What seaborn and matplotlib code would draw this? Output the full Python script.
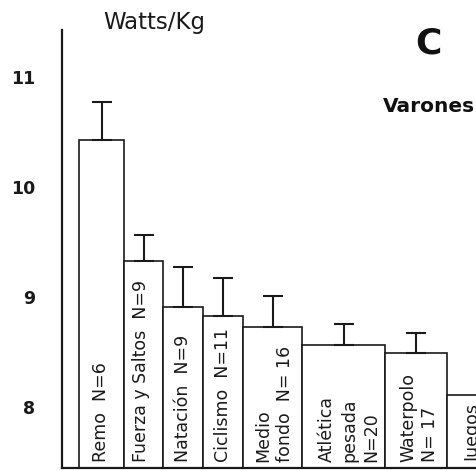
import matplotlib
matplotlib.use("Agg")
import matplotlib.pyplot as plt
import seaborn as sns
import numpy as np
import pandas as pd

# Mean relative power (W/kg) and SD per sport, men
sports = ["Remo", "Fuerza y Saltos", "Natación", "Ciclismo",
          "Medio fondo", "Atlética pesada", "Waterpolo", "Juegos"]
watts_kg = [10.43, 9.33, 8.91, 8.83, 8.73, 8.56, 8.49, 8.11]
sd_watts = [0.34, 0.23, 0.36, 0.34, 0.28, 0.19, 0.18, 0.11]
bar_labels = ["Remo  N=6", "Fuerza y Saltos  N=9", "Natación  N=9",
              "Ciclismo  N=11", "Medio\nfondo  N= 16", "Atlética\npesada\nN=20",
              "Waterpolo\nN= 17", "Juegos"]
y_ticks = [8, 9, 10, 11]
y_ticklabels = ["8", "9", "10", "11"]

# Layout (figure pixels): bars are adjacent with individual widths
W, H = 477, 470
AX_LEFT, AX_TOP, AX_BOTTOM = 62, 30, 468
FIRST_BAR_LEFT = 79
BAR_WIDTHS = [45, 39, 40, 40, 59, 83, 62, 78]
LABEL_PAD = [13, 8, 11, 11, 11, 16, 14, 18]
Y_MIN, Y_MAX = 7.445, 11.427

sns.set_theme(style="white")
plt.rcParams["font.family"] = ["DejaVu Sans"]

fig = plt.figure(figsize=(W / 100, H / 100), dpi=100)
ax = fig.add_axes([AX_LEFT / W, (H - AX_BOTTOM) / H,
                   (W - AX_LEFT) / W, (AX_BOTTOM - AX_TOP) / H])

df = pd.DataFrame({"sport": sports, "watts": watts_kg})
sns.barplot(data=df, x="sport", y="watts", ax=ax, color="white",
            edgecolor="#1a1a1a", linewidth=1.2, errorbar=None, saturation=1)

# Reposition bars to their individual widths
lefts = FIRST_BAR_LEFT + np.concatenate([[0], np.cumsum(BAR_WIDTHS[:-1])])
centers = lefts + np.array(BAR_WIDTHS) / 2
for patch, left, width in zip(ax.patches, lefts, BAR_WIDTHS):
    patch.set_x(left)
    patch.set_width(width)

# Upper-only error bars
ax.errorbar(centers, watts_kg, yerr=[np.zeros(len(sd_watts)), sd_watts],
            fmt="none", ecolor="#1a1a1a", elinewidth=1.5, capsize=7.5,
            capthick=1.5, zorder=3)

# Labels written inside the bars
for left, pad, lab in zip(lefts, LABEL_PAD, bar_labels):
    ax.text(left + pad, 7.5, lab, rotation=90, ha="left", va="bottom",
            multialignment="left", fontsize=12.5, linespacing=1.3,
            color="#1a1a1a", zorder=4)

ax.set_xlim(AX_LEFT, W)
ax.set_ylim(Y_MIN, Y_MAX)
ax.set_xticks([])
ax.set_yticks(y_ticks)
ax.set_yticklabels(y_ticklabels, fontsize=12.5, fontweight="bold", color="#1a1a1a")
ax.tick_params(axis="y", length=0, pad=19)
ax.set_xlabel("")
ax.set_ylabel("")
for side in ["top", "right"]:
    ax.spines[side].set_visible(False)
for side in ["left", "bottom"]:
    ax.spines[side].set_color("#1a1a1a")
    ax.spines[side].set_linewidth(1.6)


def fpos(x, y):
    return x / W, 1 - y / H


fig.text(*fpos(103, 23), "Watts/Kg", ha="left", va="center",
         fontsize=16.5, color="#1a1a1a")
fig.text(*fpos(428, 43), "C", ha="center", va="center",
         fontsize=26, fontweight="bold", color="#111111")
fig.text(*fpos(383, 106), "Varones", ha="left", va="center",
         fontsize=14.5, fontweight="bold", color="#111111")

fig.savefig("out.png", dpi=100, facecolor="white")
